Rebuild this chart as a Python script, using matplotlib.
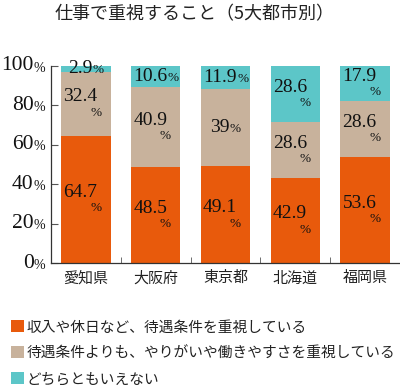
import numpy as np
import matplotlib
matplotlib.use("Agg")
import matplotlib.pyplot as plt

plt.rcParams['font.family'] = ['Noto Sans CJK JP', 'DejaVu Sans']

cities = ['愛知県', '大阪府', '東京都', '北海道', '福岡県']
income = [64.7, 48.5, 49.1, 42.9, 53.6]
worth = [32.4, 40.9, 39, 28.6, 28.6]
neither = [2.9, 10.6, 11.9, 28.6, 17.9]
series_names = ['収入や休日など、待遇条件を重視している',
                '待遇条件よりも、やりがいや働きやすさを重視している',
                'どちらともいえない']
colors = ['#E85A0C', '#C8B29C', '#5CC6C8']
# which labels are written on one line ("10.6%") instead of two
inline = [[False, False, True],
          [False, False, True],
          [False, True, True],
          [False, False, False],
          [False, False, False]]

NUM_FS = 14
PCT_FS = 9.5
serif = 'Liberation Serif'

fig = plt.figure(figsize=(4, 3.88), dpi=100)
ax = fig.add_axes([51/400, 125/388, 349/400, 197/388])

x = np.arange(len(cities))
bottom = np.zeros(len(cities))
bars = []
for vals, col, name in zip([income, worth, neither], colors, series_names):
    b = ax.bar(x, vals, bottom=bottom, width=0.71, color=col, label=name, zorder=2)
    bars.append(b)
    bottom = bottom + np.array(vals)

def num_width(s, fs):
    w = 0
    for ch in s:
        w += 0.25 if ch == '.' else 0.5
    return w * fs

# value labels
for i in range(len(cities)):
    base = 0
    for k, vals in enumerate([income, worth, neither]):
        v = vals[i]
        mid = base + v / 2
        s = f'{v:g}'
        if inline[i][k]:
            nw = num_width(s, NUM_FS)
            pw = 0.833 * PCT_FS
            split = nw - (nw + pw) / 2
            ax.annotate(s, (i, mid), xytext=(split, 0), textcoords='offset points',
                        ha='right', va='center', fontsize=NUM_FS, family=serif,
                        color='#111111', annotation_clip=False, zorder=3)
            ax.annotate('%', (i, mid), xytext=(split, -1), textcoords='offset points',
                        ha='left', va='center', fontsize=PCT_FS, family=serif,
                        color='#111111', annotation_clip=False, zorder=3)
        else:
            ax.annotate(s, (i, mid), xytext=(-4, 5), textcoords='offset points',
                        ha='center', va='center', fontsize=NUM_FS, family=serif,
                        color='#111111', annotation_clip=False, zorder=3)
            ax.annotate('%', (i, mid), xytext=(3, -6.5), textcoords='offset points',
                        ha='left', va='center', fontsize=PCT_FS, family=serif,
                        color='#111111', annotation_clip=False, zorder=3)
        base += v

ax.set_xlim(-0.5, len(cities) - 0.5)
ax.set_ylim(0, 100)
for s in ['top', 'right']:
    ax.spines[s].set_visible(False)
for s in ['left', 'bottom']:
    ax.spines[s].set_color('#333333')
    ax.spines[s].set_linewidth(0.9)

ax.set_xticks(x)
ax.set_xticklabels(cities, fontsize=10.8, color='#222222')
ax.tick_params(axis='x', length=0, pad=6)
ax.set_xticks(x[:-1] + 0.5, minor=True)
ax.tick_params(axis='x', which='minor', direction='in', length=4, color='#555555')

yt = [0, 20, 40, 60, 80, 100]
ax.set_yticks(yt)
ax.set_yticklabels([])
ax.tick_params(axis='y', direction='in', length=5, color='#555555')
for t in yt:
    ax.annotate(str(t), (0, t), xycoords=('axes fraction', 'data'),
                xytext=(-12.5, 0), textcoords='offset points', ha='right', va='center',
                fontsize=15.5, family=serif, color='#111111', annotation_clip=False)
    ax.annotate('%', (0, t), xycoords=('axes fraction', 'data'),
                xytext=(-12.5, -1.5), textcoords='offset points', ha='left', va='center',
                fontsize=10, family=serif, color='#111111', annotation_clip=False)

fig.text(0.4875, 0.963, '仕事で重視すること（5大都市別）', ha='center', va='center',
         fontsize=13, color='#222222')

fig.legend(handles=bars, labels=series_names, loc='upper left',
           bbox_to_anchor=(0.012, 0.19), frameon=False, fontsize=10.6,
           handlelength=0.9, handleheight=0.9, handletextpad=0.2,
           labelspacing=0.8, borderaxespad=0, labelcolor='#222222')

fig.savefig('out.png', dpi=100)
